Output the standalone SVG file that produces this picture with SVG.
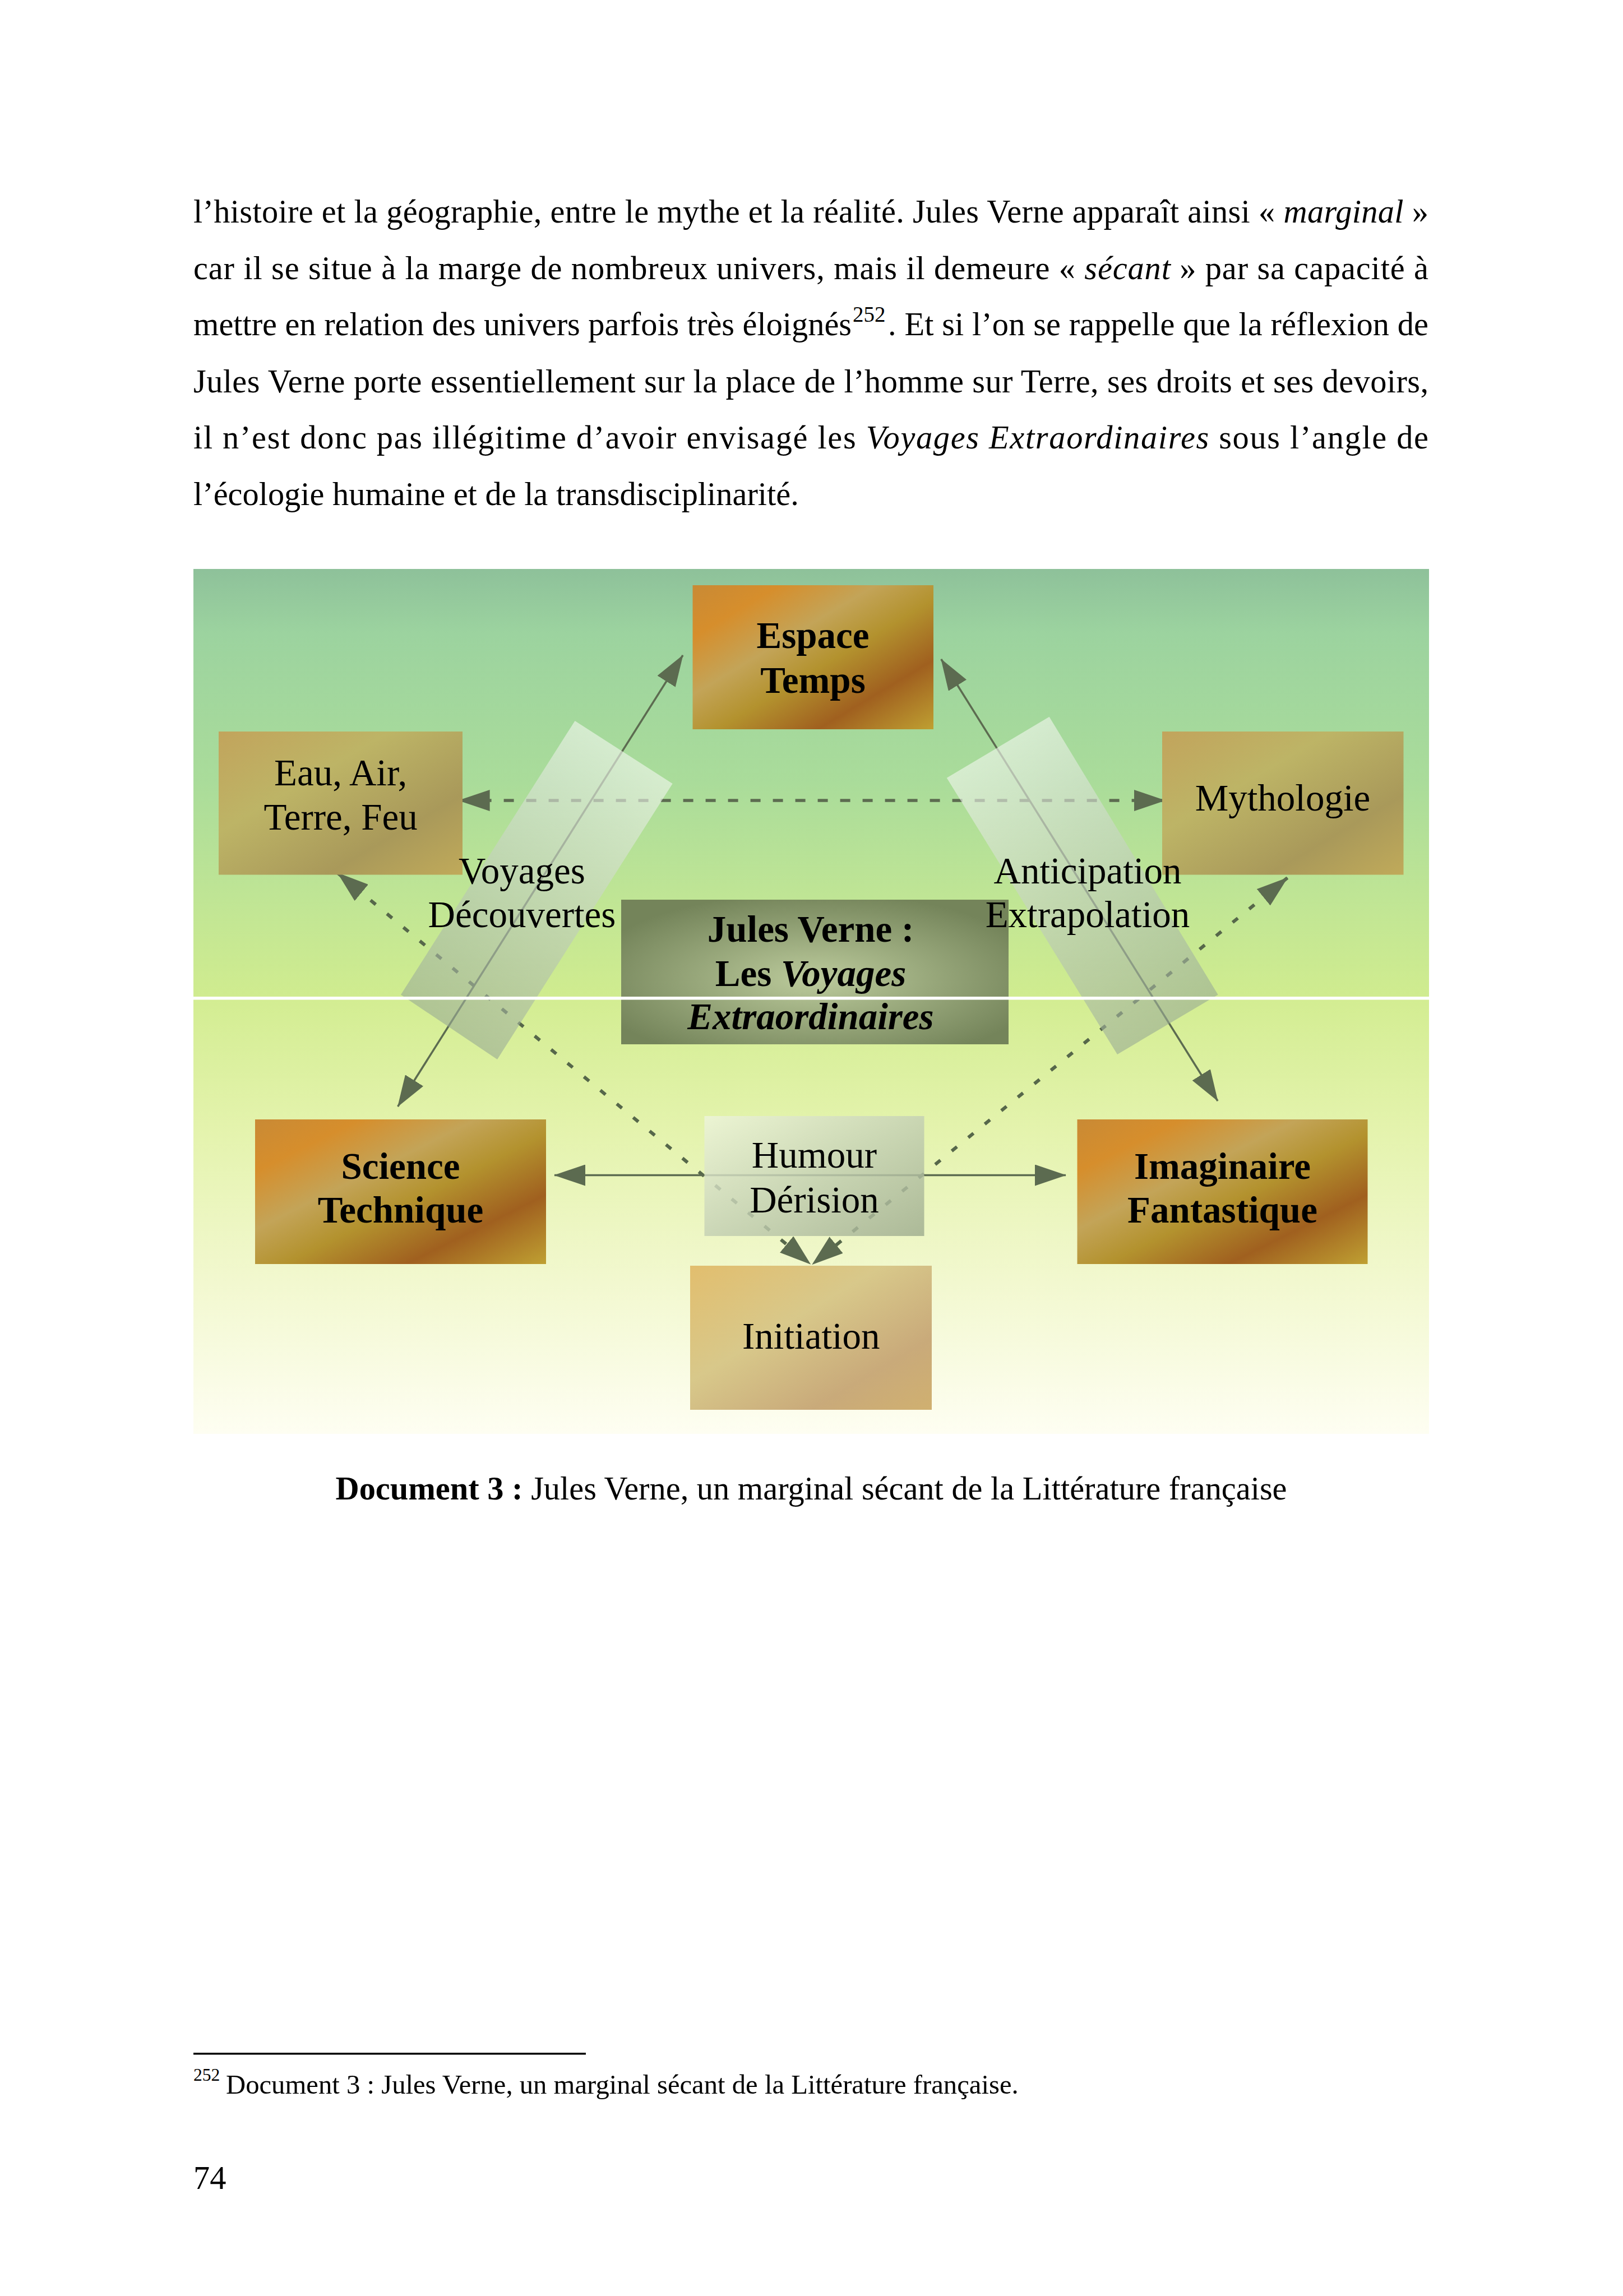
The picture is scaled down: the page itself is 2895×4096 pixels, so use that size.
<svg xmlns="http://www.w3.org/2000/svg" width="2895" height="4096" viewBox="0 0 2895 4096">
<style>
.body{font-family:'Liberation Serif','Times New Roman',serif;font-size:58.4px;fill:#000}
.it{font-style:italic}
.b{font-weight:bold}
.lbl{font-family:'Liberation Serif','Times New Roman',serif;font-size:67px;fill:#000;text-anchor:middle}
.solid{fill:none;stroke:#5c6b50;stroke-width:3.5;marker-start:url(#ah);marker-end:url(#ah)}
.dash{fill:none;stroke:#5c6b50;stroke-width:5.5;stroke-dasharray:18 22;marker-start:url(#ah);marker-end:url(#ah)}
.dot{fill:none;stroke:#56674a;stroke-width:6;stroke-dasharray:12 26;marker-start:url(#ah);marker-end:url(#ah)}
</style>
<defs>
<marker id="ah" markerUnits="userSpaceOnUse" markerWidth="56" markerHeight="38" viewBox="0 0 56 38" refX="55" refY="19" orient="auto-start-reverse">
<path d="M0,0 L56,19 L0,38 z" fill="#5c6b50"/>
</marker>
<linearGradient id="bgTop" x1="0" y1="0" x2="0" y2="1">
<stop offset="0" stop-color="#8ec19a"/>
<stop offset="0.15" stop-color="#9cd39f"/>
<stop offset="0.5" stop-color="#aadc9a"/>
<stop offset="0.8" stop-color="#c2e694"/>
<stop offset="1" stop-color="#d0ec8f"/>
</linearGradient>
<linearGradient id="bgBot" x1="0" y1="0" x2="0" y2="1">
<stop offset="0" stop-color="#d3ed92"/>
<stop offset="0.3" stop-color="#e4f3ad"/>
<stop offset="0.65" stop-color="#f2f8cf"/>
<stop offset="1" stop-color="#fefef2"/>
</linearGradient>
<linearGradient id="brass" x1="0" y1="0" x2="1" y2="1">
<stop offset="0" stop-color="#c98a35"/>
<stop offset="0.18" stop-color="#d68e2c"/>
<stop offset="0.38" stop-color="#c3a458"/>
<stop offset="0.55" stop-color="#b3922e"/>
<stop offset="0.76" stop-color="#a0601f"/>
<stop offset="1" stop-color="#bfa032"/>
</linearGradient>
<linearGradient id="olive" x1="0" y1="0" x2="1" y2="1">
<stop offset="0" stop-color="#c2a45c"/>
<stop offset="0.35" stop-color="#bdb466"/>
<stop offset="0.72" stop-color="#a9995a"/>
<stop offset="1" stop-color="#c0aa5a"/>
</linearGradient>
<radialGradient id="jv" cx="0.5" cy="0.55" r="0.6">
<stop offset="0" stop-color="#bccb9c"/>
<stop offset="1" stop-color="#74845a"/>
</radialGradient>
<linearGradient id="hum" x1="0" y1="0" x2="1" y2="1">
<stop offset="0" stop-color="#eef5dc"/>
<stop offset="0.5" stop-color="#c4d0b4"/>
<stop offset="1" stop-color="#9eac8e"/>
</linearGradient>
<linearGradient id="init" x1="0" y1="0" x2="1" y2="1">
<stop offset="0" stop-color="#e2be6e"/>
<stop offset="0.4" stop-color="#d8c88a"/>
<stop offset="0.75" stop-color="#c9aa7a"/>
<stop offset="1" stop-color="#d0b070"/>
</linearGradient>
<linearGradient id="bandL" gradientUnits="userSpaceOnUse" x1="1112" y1="1342" x2="801" y2="1832">
<stop offset="0" stop-color="#eef5ea" stop-opacity="0.65"/>
<stop offset="1" stop-color="#98aa94" stop-opacity="0.6"/>
</linearGradient>
<linearGradient id="bandR" gradientUnits="userSpaceOnUse" x1="1780" y1="1333" x2="2083" y2="1828">
<stop offset="0" stop-color="#eef5ea" stop-opacity="0.65"/>
<stop offset="1" stop-color="#98aa94" stop-opacity="0.6"/>
</linearGradient>
</defs>
<rect width="2895" height="4096" fill="#fff"/>

<g id="body-text">
<text class="body" x="345" y="397" textLength="2203" lengthAdjust="spacing">l’histoire et la géographie, entre le mythe et la réalité. Jules Verne apparaît ainsi « <tspan class="it">marginal</tspan> »</text>
<text class="body" x="345" y="498" textLength="2203" lengthAdjust="spacing">car il se situe à la marge de nombreux univers, mais il demeure « <tspan class="it">sécant</tspan> » par sa capacité à</text>
<text class="body" x="345" y="598" textLength="1174" lengthAdjust="spacing">mettre en relation des univers parfois très éloignés</text>
<text class="body" x="1521" y="574" style="font-size:39px">252</text>
<text class="body" x="1584" y="598" textLength="964" lengthAdjust="spacing">. Et si l’on se rappelle que la réflexion de</text>
<text class="body" x="345" y="700" textLength="2203" lengthAdjust="spacing">Jules Verne porte essentiellement sur la place de l’homme sur Terre, ses droits et ses devoirs,</text>
<text class="body" x="345" y="800" textLength="2203" lengthAdjust="spacing">il n’est donc pas illégitime d’avoir envisagé les <tspan class="it">Voyages Extraordinaires</tspan> sous l’angle de</text>
<text class="body" x="345" y="901">l’écologie humaine et de la transdisciplinarité.</text>
</g>

<g id="background">
<rect x="345" y="1015" width="2204" height="764" fill="url(#bgTop)"/>
<rect x="345" y="1783" width="2204" height="775" fill="url(#bgBot)"/>
</g>

<g id="connectors">
<line class="solid" x1="709.6" y1="1974" x2="1218" y2="1169"/>
<line class="solid" x1="1678.8" y1="1176" x2="2172" y2="1964"/>
<line class="dash" x1="818.6" y1="1428" x2="2078" y2="1428"/>
<line class="dot" x1="602.4" y1="1557.5" x2="1445.5" y2="2255"/>
<line class="dot" x1="2296.4" y1="1566" x2="1449" y2="2255.7"/>
<line class="solid" x1="989" y1="2096.5" x2="1901" y2="2096.5"/>
</g>

<g id="band-voyages">
<polygon points="1025.5,1286 1199.6,1398 887,1890 715,1774.5" fill="url(#bandL)"/>
</g>
<g id="band-anticipation">
<polygon points="1871.6,1278.8 2172.6,1774.5 1993,1881 1688.75,1387.75" fill="url(#bandR)"/>
</g>

<g id="node-espace">
<rect x="1235.5" y="1044" width="429.5" height="257" fill="url(#brass)"/>
<text class="lbl b" x="1450" y="1156">Espace</text>
<text class="lbl b" x="1450" y="1235.5">Temps</text>
</g>
<g id="node-eau">
<rect x="390" y="1305" width="435" height="255.5" fill="url(#olive)"/>
<text class="lbl" x="607.7" y="1401">Eau, Air,</text>
<text class="lbl" x="607.7" y="1480">Terre, Feu</text>
</g>
<g id="node-mythologie">
<rect x="2073" y="1305" width="430.5" height="255.5" fill="url(#olive)"/>
<text class="lbl" x="2288" y="1446">Mythologie</text>
</g>
<g id="node-jules">
<rect x="1108" y="1605" width="691" height="258" fill="url(#jv)"/>
<text class="lbl b" x="1446" y="1680">Jules Verne :</text>
<text class="lbl b" x="1446" y="1759">Les <tspan class="it">Voyages</tspan></text>
<text class="lbl b it" x="1446" y="1836">Extraordinaires</text>
</g>
<g id="node-science">
<rect x="455" y="1997" width="519" height="258" fill="url(#brass)"/>
<text class="lbl b" x="714.5" y="2102.6">Science</text>
<text class="lbl b" x="714.5" y="2180.5">Technique</text>
</g>
<g id="node-imaginaire">
<rect x="1921.5" y="1997" width="518" height="258" fill="url(#brass)"/>
<text class="lbl b" x="2180.5" y="2102.6">Imaginaire</text>
<text class="lbl b" x="2180.5" y="2180.5">Fantastique</text>
</g>
<g id="node-humour">
<rect x="1256.5" y="1991" width="392" height="214" fill="url(#hum)" opacity="0.82"/>
<text class="lbl" x="1452.5" y="2083">Humour</text>
<text class="lbl" x="1452.5" y="2162.5">Dérision</text>
</g>
<g id="node-initiation">
<rect x="1231" y="2258" width="431" height="257" fill="url(#init)"/>
<text class="lbl" x="1446.8" y="2406">Initiation</text>
</g>

<g id="band-labels">
<text class="lbl" x="931" y="1575.5">Voyages</text>
<text class="lbl" x="931" y="1654">Découvertes</text>
<text class="lbl" x="1940" y="1575.5">Anticipation</text>
<text class="lbl" x="1940" y="1654">Extrapolation</text>
</g>

<rect id="separator-line" x="345" y="1778" width="2204" height="5.5" fill="#fff"/>

<g id="caption">
<text class="body" x="1447" y="2675" text-anchor="middle"><tspan class="b">Document 3 :</tspan> Jules Verne, un marginal sécant de la Littérature française</text>
</g>

<g id="footnote">
<rect x="345" y="3662" width="700" height="3.5" fill="#000"/>
<text class="body" x="345" y="3712" style="font-size:31.6px">252</text>
<text class="body" x="403" y="3735" style="font-size:48.7px">Document 3 : Jules Verne, un marginal sécant de la Littérature française.</text>
<text class="body" x="345" y="3905">74</text>
</g>
</svg>
